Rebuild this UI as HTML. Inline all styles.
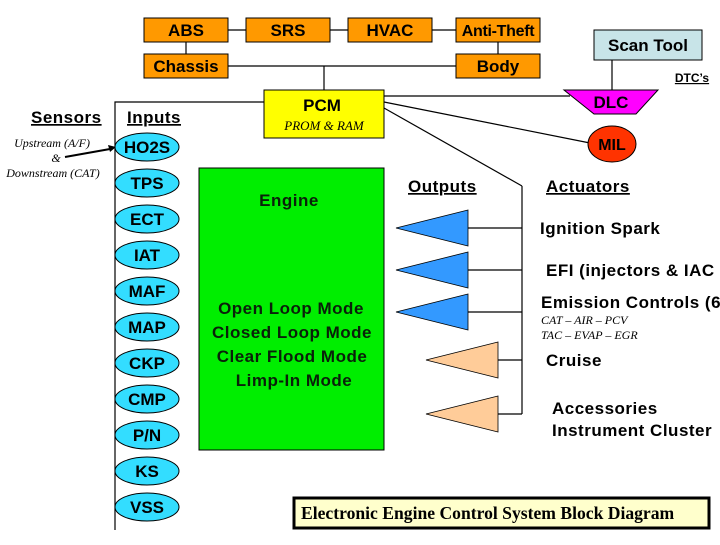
<!DOCTYPE html>
<html><head><meta charset="utf-8"><style>
body{margin:0;background:#fff;}
svg text{font-family:"Liberation Sans",sans-serif;font-weight:bold;}
svg .s text, svg text.s{font-family:"Liberation Serif",serif;font-style:italic;font-weight:normal;}
.w{letter-spacing:0.5px;}
</style></head><body>
<svg width="720" height="540" xmlns="http://www.w3.org/2000/svg">
<g stroke="#000" stroke-width="1.2" fill="none">
<line x1="228" y1="30" x2="246" y2="30"/><line x1="330" y1="30" x2="348" y2="30"/><line x1="432" y1="30" x2="456" y2="30"/>
<line x1="186" y1="42" x2="186" y2="54"/><line x1="498" y1="42" x2="498" y2="54"/>
<line x1="228" y1="66" x2="456" y2="66"/><line x1="324" y1="66" x2="324" y2="90"/>
<line x1="612" y1="60" x2="612" y2="92"/>
<line x1="384" y1="96" x2="570" y2="96"/>
<line x1="384" y1="102" x2="590" y2="143"/>
<line x1="384" y1="108" x2="522" y2="186"/>
<line x1="522" y1="186" x2="522" y2="414"/>
<line x1="468" y1="228" x2="522" y2="228"/><line x1="468" y1="270" x2="522" y2="270"/><line x1="468" y1="312" x2="522" y2="312"/>
<line x1="498" y1="360" x2="522" y2="360"/><line x1="498" y1="414" x2="522" y2="414"/>
<polyline points="264,102 115,102 115,530"/>
<line x1="65" y1="157" x2="110" y2="149" stroke-width="2"/>
</g>
<polygon points="116,147 108,145 110,152" fill="#000"/>
<g fill="#ff9900" stroke="#000" stroke-width="1">
<rect x="144" y="18" width="84" height="24"/><rect x="246" y="18" width="84" height="24"/><rect x="348" y="18" width="84" height="24"/><rect x="456" y="18" width="84" height="24"/>
<rect x="144" y="54" width="84" height="24"/><rect x="456" y="54" width="84" height="24"/>
</g>
<g font-size="17" text-anchor="middle">
<text x="186" y="36">ABS</text><text x="288" y="36">SRS</text><text x="390" y="36">HVAC</text><text x="498" y="36" font-size="16" letter-spacing="-0.3">Anti-Theft</text>
<text x="186" y="72">Chassis</text><text x="498" y="72">Body</text>
</g>
<rect x="594" y="30" width="108" height="30" fill="#c8e4e8" stroke="#000"/>
<text x="648" y="51" font-size="17" text-anchor="middle">Scan Tool</text>
<text x="692" y="82" font-size="12" text-anchor="middle" text-decoration="underline">DTC’s</text>
<polygon points="564,90 658,90 636,114 594,114" fill="#ff00ff" stroke="#000"/>
<text x="611" y="108" font-size="17" text-anchor="middle">DLC</text>
<ellipse cx="612" cy="144" rx="24" ry="18" fill="#ff3300" stroke="#000"/>
<text x="612" y="150" font-size="16" text-anchor="middle">MIL</text>
<rect x="264" y="90" width="120" height="48" fill="#ffff00" stroke="#000"/>
<text x="322" y="111" font-size="17" text-anchor="middle">PCM</text>
<text x="324" y="130" font-size="13" text-anchor="middle" class="s">PROM &amp; RAM</text>
<rect x="199" y="168" width="185" height="282" fill="#00ee00" stroke="#000"/>
<g font-size="17" text-anchor="middle" fill="#0a200a" class="w">
<text x="289" y="206">Engine</text>
<text x="291" y="314">Open Loop Mode</text><text x="292" y="338">Closed Loop Mode</text><text x="292" y="362">Clear Flood Mode</text><text x="294" y="386">Limp-In Mode</text>
</g>
<g fill="#33ddff" stroke="#000">
<ellipse cx="147" cy="147" rx="32" ry="14"/><ellipse cx="147" cy="183" rx="32" ry="14"/><ellipse cx="147" cy="219" rx="32" ry="14"/><ellipse cx="147" cy="255" rx="32" ry="14"/><ellipse cx="147" cy="291" rx="32" ry="14"/><ellipse cx="147" cy="327" rx="32" ry="14"/><ellipse cx="147" cy="363" rx="32" ry="14"/><ellipse cx="147" cy="399" rx="32" ry="14"/><ellipse cx="147" cy="435" rx="32" ry="14"/><ellipse cx="147" cy="471" rx="32" ry="14"/><ellipse cx="147" cy="507" rx="32" ry="14"/>
</g>
<g font-size="17" text-anchor="middle">
<text x="147" y="153">HO2S</text><text x="147" y="189">TPS</text><text x="147" y="225">ECT</text><text x="147" y="261">IAT</text><text x="147" y="297">MAF</text><text x="147" y="333">MAP</text><text x="147" y="369">CKP</text><text x="147" y="405">CMP</text><text x="147" y="441">P/N</text><text x="147" y="477">KS</text><text x="147" y="513">VSS</text>
</g>
<g font-size="17" text-decoration="underline" class="w">
<text x="31" y="123">Sensors</text><text x="127" y="123">Inputs</text>
<text x="408" y="192">Outputs</text><text x="546" y="192">Actuators</text>
</g>
<g font-size="12" class="s" text-anchor="middle">
<text x="52" y="147">Upstream (A/F)</text><text x="56" y="162">&amp;</text><text x="53" y="177">Downstream (CAT)</text>
</g>
<g fill="#3399ff" stroke="#000" stroke-width="0.8">
<polygon points="396,228 468,210 468,246"/><polygon points="396,270 468,252 468,288"/><polygon points="396,312 468,294 468,330"/>
</g>
<g fill="#ffcc99" stroke="#000" stroke-width="0.8">
<polygon points="426,360 498,342 498,378"/><polygon points="426,414 498,396 498,432"/>
</g>
<g font-size="17" class="w">
<text x="540" y="234">Ignition Spark</text>
<text x="546" y="276">EFI  (injectors &amp; IAC</text>
<text x="541" y="308">Emission Controls (6</text>
<text x="546" y="366">Cruise</text>
<text x="552" y="414">Accessories</text><text x="552" y="436">Instrument Cluster</text>
</g>
<g font-size="12" class="s"><text x="541" y="324">CAT – AIR – PCV</text><text x="541" y="339">TAC – EVAP – EGR</text></g>
<rect x="294" y="498" width="415" height="30" fill="#ffffcc" stroke="#000" stroke-width="3"/>
<text x="301" y="519" font-size="17.6" style="font-family:'Liberation Serif',serif;font-weight:bold">Electronic Engine Control System Block Diagram</text>
</svg>
</body></html>
